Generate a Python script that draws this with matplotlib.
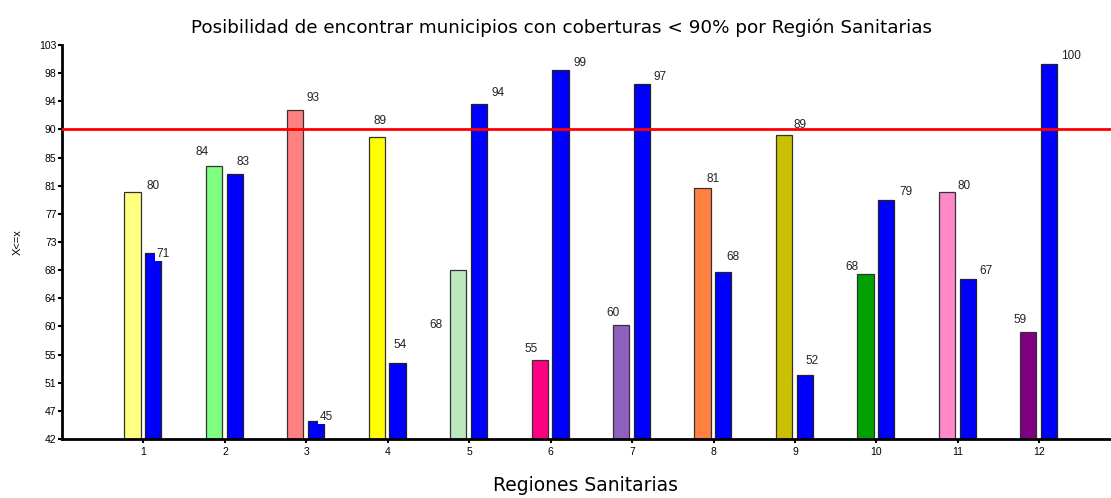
import matplotlib
matplotlib.use("Agg")
import matplotlib.pyplot as plt
import numpy as np

# --- data ---
regions = list(range(1, 13))
region_values = [80.2, 84.3, 93.0, 88.8, 68.2, 54.3, 59.6, 80.9, 89.1, 67.6, 80.2, 58.6]
blue_values = [70.8, 83.0, 44.8, 53.8, 93.9, 99.1, 97.0, 67.9, 51.9, 79.0, 66.8, 100.0]
region_labels = ["80", "84", "93", "89", "68", "55", "60", "81", "89", "68", "80", "59"]
blue_labels = ["71", "83", "45", "54", "94", "99", "97", "68", "52", "79", "67", "100"]
region_colors = ["#FFFF80", "#80FF80", "#FF8080", "#FFFF00", "#BCE8C0", "#FF0080",
                 "#9060C0", "#FF8040", "#C8C000", "#00A000", "#FF88C8", "#800080"]
ytick_labels = ["42", "47", "51", "55", "60", "64", "68", "73", "77", "81", "85",
                "90", "94", "98", "103"]
threshold = 90

# label offsets (pixels) from bar centre / bar top, as placed in the original
region_off = [(21, 6), (-12, 14), (18, 12), (3, 16), (-22, -55), (-9, 11),
              (-8, 12), (11, 9), (16, 10), (-14, 7), (17, 6), (-8, 12)]
blue_off = [(10, -1), (8, 12), (10, 4), (3, 18), (19, 11), (20, 7),
            (18, 7), (10, 15), (7, 14), (20, 8), (18, 8), (22, 8)]
blue_boxed = [True, False, True] + [False] * 9

fig = plt.figure(figsize=(11.11, 4.98), dpi=100)
ax = fig.add_axes([0.0558, 0.1185, 0.9442, 0.791])

x = np.array(regions, dtype=float)
w = 0.2
xc = x - 0.135
xb = x + 0.12
base = 42

ax.bar(xc, np.array(region_values) - base, bottom=base, width=w,
       color=region_colors, edgecolor="#333333", linewidth=0.9, zorder=2)
ax.bar(xb, np.array(blue_values) - base, bottom=base, width=w,
       color="#0000FF", edgecolor="#222222", linewidth=0.9, zorder=2)

ax.axhline(threshold, color="#FF0000", linewidth=2, zorder=3)

lab_kw = dict(fontsize=8.5, family="Liberation Sans", color="#222222", zorder=4,
              textcoords="offset pixels", ha="center", va="center")
for xi, v, t, off in zip(xc, region_values, region_labels, region_off):
    ax.annotate(t, (xi, v), xytext=off, **lab_kw)
for xi, v, t, off, boxed in zip(xb, blue_values, blue_labels, blue_off, blue_boxed):
    bb = dict(boxstyle="square,pad=0.1", fc="white", ec="none") if boxed else None
    ax.annotate(t, (xi, v), xytext=off, bbox=bb, **lab_kw)

ax.set_xlim(0, 12.88)
ax.set_ylim(42, 103)
ax.set_xticks(regions)
ax.set_xticklabels([str(r) for r in regions], fontsize=7.5, family="Liberation Sans")
ax.set_yticks(np.linspace(42, 103, len(ytick_labels)))
ax.set_yticklabels(ytick_labels, fontsize=7.5, family="Liberation Sans")
ax.tick_params(axis="both", direction="out", length=3, width=1.5, pad=1)
ax.tick_params(axis="x", pad=3)

for s in ["top", "right"]:
    ax.spines[s].set_visible(False)
for s in ["left", "bottom"]:
    ax.spines[s].set_linewidth(2)

ax.set_ylabel("X<=x", fontsize=8, family="Liberation Sans", labelpad=12)
fig.text(0.527, 0.026, "Regiones Sanitarias", ha="center", va="center", fontsize=13.5)
fig.text(0.505, 0.944, "Posibilidad de encontrar municipios con coberturas < 90% por Región Sanitarias",
         ha="center", va="center", fontsize=13.2)

fig.savefig("out.png", dpi=100, facecolor="white")
